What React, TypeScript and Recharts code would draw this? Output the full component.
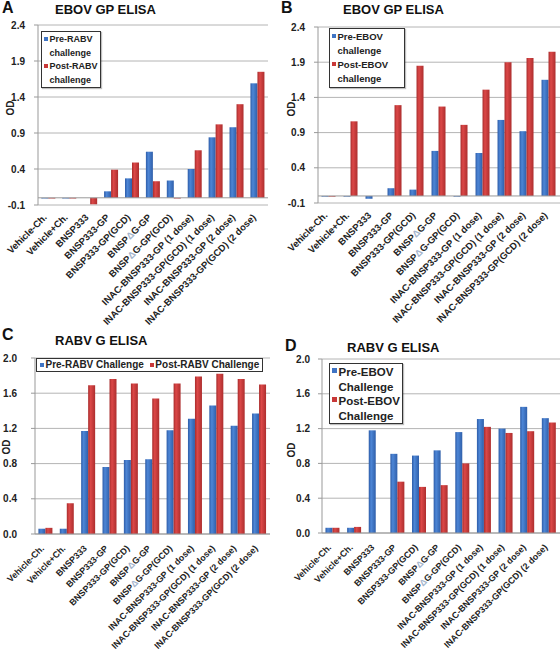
import React from "react";
import { BarChart, Bar, XAxis, YAxis, CartesianGrid, ReferenceLine } from "recharts";

const font = "'Liberation Sans', Arial, sans-serif";

const groups = [
  "Vehicle-Ch.",
  "Vehicle+Ch.",
  "BNSP333",
  "BNSP333-GP",
  "BNSP333-GP(GCD)",
  "BNSPΔG-GP",
  "BNSPΔG-GP(GCD)",
  "INAC-BNSP333-GP (1 dose)",
  "INAC-BNSP333-GP(GCD) (1 dose)",
  "INAC-BNSP333-GP (2 dose)",
  "INAC-BNSP333-GP(GCD) (2 dose)",
];

// A: EBOV GP ELISA, RABV challenge
const ebovPreRabv = [-0.01, -0.01, 0, 0.09, 0.27, 0.64, 0.24, 0.4, 0.84, 0.98, 1.59];
const ebovPostRabv = [-0.01, -0.01, -0.09, 0.39, 0.49, 0.23, -0.01, 0.66, 1.02, 1.3, 1.75];
// B: EBOV GP ELISA, EBOV challenge
const ebovPreEbov = [-0.01, -0.01, -0.04, 0.11, 0.09, 0.64, -0.01, 0.61, 1.08, 0.92, 1.65];
const ebovPostEbov = [-0.01, 1.06, 0, 1.29, 1.85, 1.27, 1.01, 1.51, 1.9, 1.96, 2.05];
// C: RABV G ELISA, RABV challenge
const rabvPreRabv = [0.06, 0.06, 1.17, 0.76, 0.84, 0.85, 1.18, 1.31, 1.46, 1.23, 1.37];
const rabvPostRabv = [0.07, 0.35, 1.69, 1.76, 1.71, 1.54, 1.71, 1.79, 1.82, 1.76, 1.7];
// D: RABV G ELISA, EBOV challenge
const rabvPreEbov = [0.06, 0.06, 1.18, 0.91, 0.89, 0.95, 1.16, 1.31, 1.2, 1.45, 1.32];
const rabvPostEbov = [0.06, 0.07, 0, 0.59, 0.53, 0.55, 0.8, 1.22, 1.15, 1.17, 1.27];

const ebovTicks = [-0.1, 0.4, 0.9, 1.4, 1.9, 2.4];
const rabvTicks = [0, 0.4, 0.8, 1.2, 1.6, 2.0];

const BLUE = "#3f74c4";
const RED = "#c83838";

const GroupTick = (props: any) => {
  const { x, y, payload, labelDy, labelSize } = props;
  const parts = String(payload.value).split("Δ");
  return (
    <text
      transform={`translate(${x - 1},${y + labelDy}) rotate(-45)`}
      textAnchor="end"
      fontSize={labelSize}
      fontWeight="bold"
      fill="#222"
      fontFamily={font}
    >
      {parts.map((p, i) => (
        <React.Fragment key={i}>
          {i > 0 && <tspan fill="#a3b4cc">Δ</tspan>}
          {p}
        </React.Fragment>
      ))}
    </text>
  );
};

function Panel(props: any) {
  const { id, left, top, width, height, plotTop, plotRight, yWidth, xHeight, tickMargin, labelDy, labelSize, pre, post, domain, ticks, zeroLine } = props;
  const data = groups.map((name, i) => ({ name, pre: pre[i], post: post[i] }));
  return (
    <div style={{ position: "absolute", left, top }}>
      <BarChart
        width={width}
        height={height}
        data={data}
        margin={{ top: plotTop, right: plotRight, left: 0, bottom: 0 }}
        barCategoryGap="16%"
        barGap={0}
      >
        <defs>
          <linearGradient id={`${id}-blue`} x1="0" y1="0" x2="1" y2="0">
            <stop offset="0%" stopColor="#2d5ca8" />
            <stop offset="35%" stopColor="#4d86d6" />
            <stop offset="100%" stopColor="#2f5faa" />
          </linearGradient>
          <linearGradient id={`${id}-red`} x1="0" y1="0" x2="1" y2="0">
            <stop offset="0%" stopColor="#a82c2c" />
            <stop offset="35%" stopColor="#dc4848" />
            <stop offset="100%" stopColor="#ad2e2e" />
          </linearGradient>
        </defs>
        <CartesianGrid vertical={false} stroke="#b4b4b4" />
        <XAxis
          dataKey="name"
          interval={0}
          height={xHeight}
          tickSize={0}
          tickMargin={0}
          tick={<GroupTick labelDy={labelDy} labelSize={labelSize} />}
          axisLine={zeroLine ? false : { stroke: "#999" }}
        />
        <YAxis
          width={yWidth}
          domain={domain}
          ticks={ticks}
          allowDataOverflow
          tickSize={4}
          tickMargin={tickMargin}
          tickLine={{ stroke: "#999" }}
          axisLine={{ stroke: "#999" }}
          tickFormatter={(v: number) => v.toFixed(1)}
          tick={{ fontSize: 10, fontWeight: "bold", fill: "#222", fontFamily: font }}
        />
        <Bar dataKey="pre" fill={`url(#${id}-blue)`} isAnimationActive={false} />
        <Bar dataKey="post" fill={`url(#${id}-red)`} isAnimationActive={false} />
        {zeroLine && <ReferenceLine y={0} stroke="#999" />}
      </BarChart>
    </div>
  );
}

const Marker = ({ color, size, top = 2 }: { color: string; size: number; top?: number }) => (
  <span style={{ display: "inline-block", flex: "none", width: size, height: size, background: color, marginRight: 1.5, marginTop: top }} />
);

function StackLegend(props: any) {
  const { left, top, width, height, fontSize, lineHeight, markerTop, items } = props;
  return (
    <div
      style={{
        position: "absolute",
        left,
        top,
        width,
        height,
        boxSizing: "border-box",
        border: "1px solid #333",
        background: "#fff",
        padding: "1px 0 0 2px",
        fontFamily: font,
        fontWeight: "bold",
        fontSize,
        lineHeight: `${lineHeight}px`,
        color: "#222",
        whiteSpace: "nowrap",
        boxShadow: "1px 1px 1px rgba(0,0,0,0.25)",
      }}
    >
      {items.map((it: any) => (
        <div key={it.label} style={{ display: "flex", alignItems: "flex-start" }}>
          <Marker color={it.color} size={Math.round(fontSize / 2.2)} top={markerTop} />
          <div>
            <div>{it.label}</div>
            <div>{it.sub}</div>
          </div>
        </div>
      ))}
    </div>
  );
}

const Heading = ({ left, top, size, children }: any) => (
  <div
    style={{
      position: "absolute",
      left,
      top,
      fontFamily: font,
      fontWeight: "bold",
      fontSize: size,
      lineHeight: `${size}px`,
      color: "#111",
      whiteSpace: "nowrap",
    }}
  >
    {children}
  </div>
);

const OD = ({ cx, cy }: any) => (
  <div
    style={{
      position: "absolute",
      left: cx - 15,
      top: cy - 6,
      width: 30,
      height: 12,
      lineHeight: "12px",
      textAlign: "center",
      transform: "rotate(-90deg)",
      fontFamily: font,
      fontWeight: "bold",
      fontSize: 10,
      color: "#222",
    }}
  >
    OD
  </div>
);

export default function App() {
  return (
    <div style={{ position: "absolute", left: 0, top: 0, width: 560, height: 653, background: "#fff", overflow: "hidden" }}>
      <Panel id="a" left={0} top={0} width={270} height={345} plotTop={25} plotRight={2} yWidth={38} xHeight={140}
        tickMargin={9} labelDy={13} labelSize={9.5} pre={ebovPreRabv} post={ebovPostRabv} domain={[-0.1, 2.4]} ticks={ebovTicks} zeroLine />
      <Panel id="b" left={280} top={0} width={280} height={345} plotTop={27} plotRight={0} yWidth={38} xHeight={142}
        tickMargin={9} labelDy={13} labelSize={9.5} pre={ebovPreEbov} post={ebovPostEbov} domain={[-0.1, 2.4]} ticks={ebovTicks} zeroLine />
      <Panel id="c" left={0} top={320} width={272} height={333} plotTop={38} plotRight={2} yWidth={35} xHeight={119}
        tickMargin={14} labelDy={15} labelSize={8.9} pre={rabvPreRabv} post={rabvPostRabv} domain={[0, 2]} ticks={rabvTicks} />
      <Panel id="d" left={280} top={320} width={280} height={333} plotTop={39} plotRight={0} yWidth={42} xHeight={120}
        tickMargin={8} labelDy={15} labelSize={8.9} pre={rabvPreEbov} post={rabvPostEbov} domain={[0, 2]} ticks={rabvTicks} />

      <Heading left={2} top={0} size={16}>A</Heading>
      <Heading left={55} top={3} size={13}>EBOV GP ELISA</Heading>
      <Heading left={281} top={0} size={16}>B</Heading>
      <Heading left={343} top={3} size={13}>EBOV GP ELISA</Heading>
      <Heading left={2} top={327} size={16}>C</Heading>
      <Heading left={55} top={334} size={13}>RABV G ELISA</Heading>
      <Heading left={285} top={338} size={16}>D</Heading>
      <Heading left={347} top={341} size={13}>RABV G ELISA</Heading>

      <OD cx={11} cy={108} />
      <OD cx={292} cy={109} />
      <OD cx={7} cy={447} />
      <OD cx={292} cy={450} />

      <StackLegend left={41} top={31} width={60} height={57} fontSize={9} lineHeight={13.5} markerTop={4}
        items={[
          { label: "Pre-RABV", sub: "challenge", color: BLUE },
          { label: "Post-RABV", sub: "challenge", color: RED },
        ]} />
      <StackLegend left={329} top={28} width={76} height={60} fontSize={9.5} lineHeight={14} markerTop={4}
        items={[
          { label: "Pre-EBOV", sub: "challenge", color: BLUE },
          { label: "Post-EBOV", sub: "challenge", color: RED },
        ]} />
      <StackLegend left={329} top={363} width={74} height={61} fontSize={11.5} lineHeight={14.5} markerTop={3}
        items={[
          { label: "Pre-EBOV", sub: "Challenge", color: BLUE },
          { label: "Post-EBOV", sub: "Challenge", color: RED },
        ]} />
      <div
        style={{
          position: "absolute",
          left: 36,
          top: 358,
          width: 227,
          height: 14,
          boxSizing: "border-box",
          border: "1px solid #333",
          background: "#fff",
          fontFamily: font,
          fontWeight: "bold",
          fontSize: 10,
          lineHeight: "12px",
          color: "#222",
          display: "flex",
          alignItems: "center",
          paddingLeft: 3,
          whiteSpace: "nowrap",
        }}
      >
        <Marker color={BLUE} size={4} top={0} />
        <span style={{ marginRight: 6 }}>Pre-RABV Challenge</span>
        <Marker color={RED} size={4} top={0} />
        <span>Post-RABV Challenge</span>
      </div>
    </div>
  );
}
